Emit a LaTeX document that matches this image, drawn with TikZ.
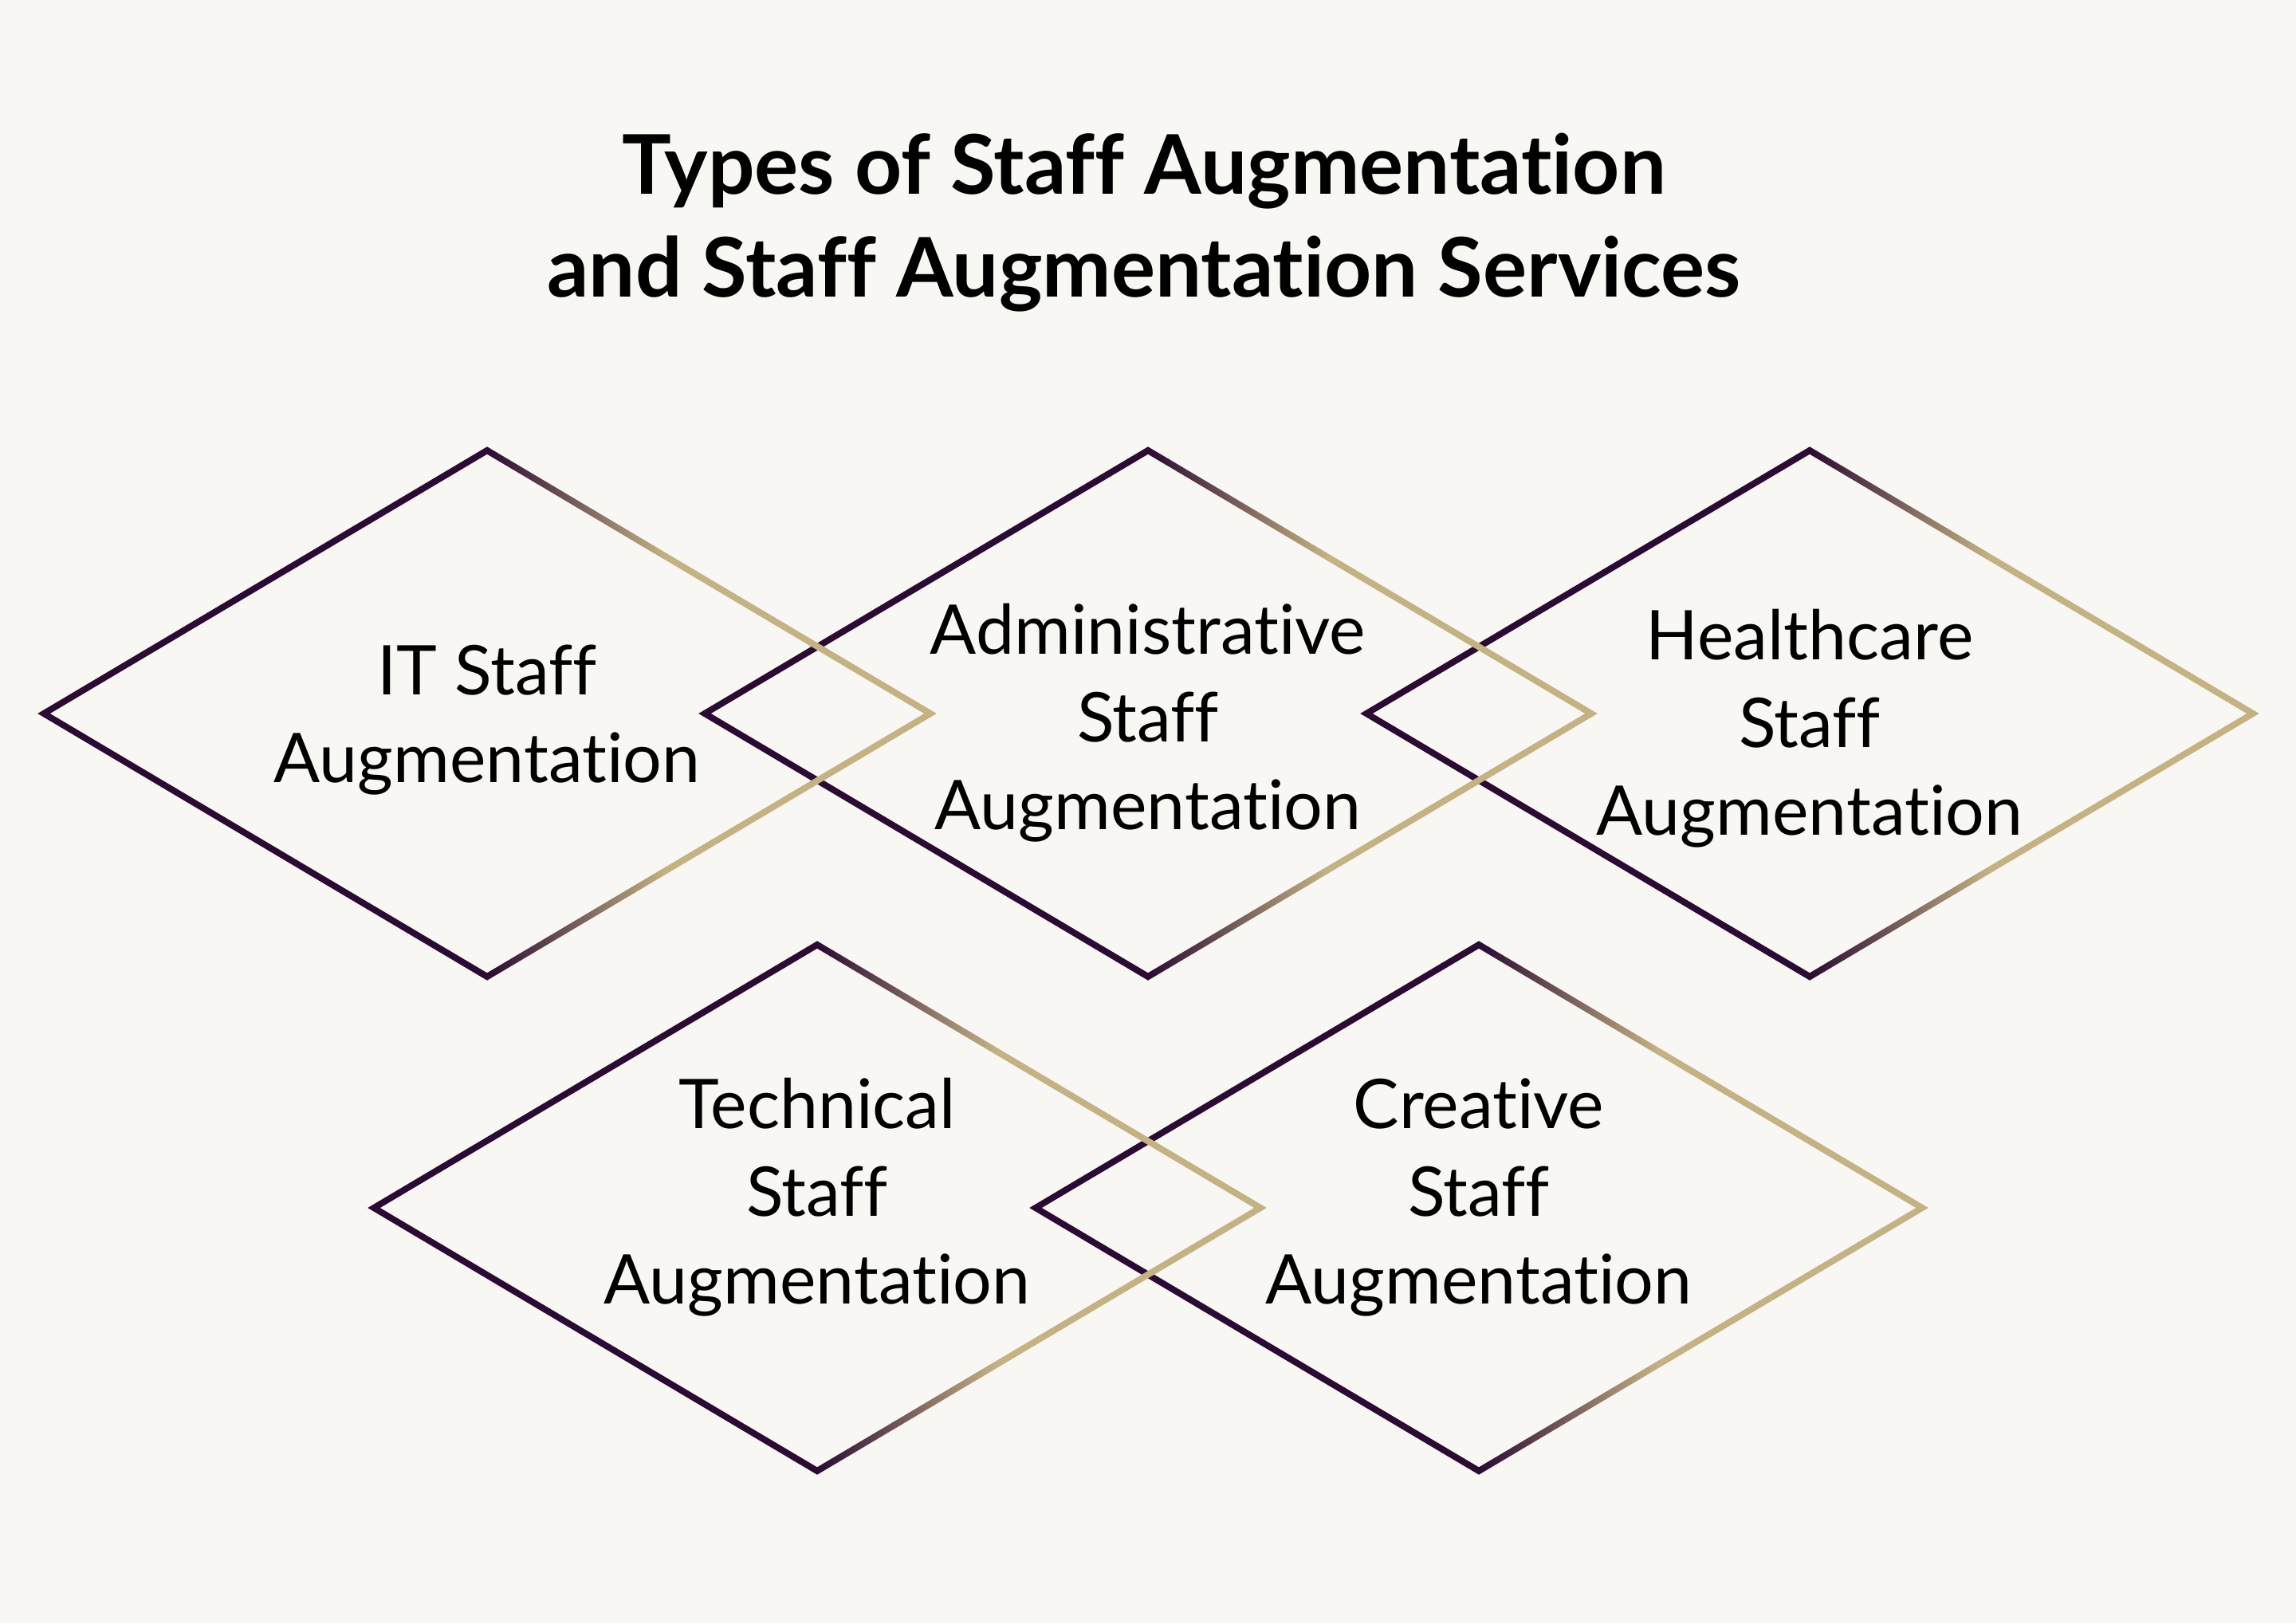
\documentclass[tikz,border=0pt]{standalone}
\usepackage{fontspec}
\setmainfont{Lato}[Ligatures=NoCommon]
\definecolor{augdark}{HTML}{2B0B33}
\definecolor{auggold}{HTML}{C4B283}
\definecolor{augpaper}{HTML}{F8F7F3}
\pgfdeclarehorizontalshading{augstroke}{100bp}{color(0bp)=(augdark); color(50bp)=(augdark); color(60bp)=(auggold); color(100bp)=(auggold)}
\begin{document}
\begin{tikzpicture}[x=2.5pt,y=2.5pt]
                \tikzstyle{every node}+=[inner sep=0pt]
                \tikzstyle{augline}=[even odd rule, shading=augstroke]
                \tikzstyle{augtext}=[align=center, text=black, font=\fontsize{21.5}{27.5}\selectfont]
                \fill [augpaper] (0,0) rectangle (288,-203.6);
                \useasboundingbox (0,0) rectangle (288,-203.6);
                \draw (143.5,-16.6) node [anchor=north, align=center, font=\bfseries\fontsize{25.8}{32.25}\selectfont] (title) {Types of Staff Augmentation\\and Staff Augmentation Services};
                % upper row, drawn right to left
                \shade [augline, shift={(227,-89.5)}] (-56.38,0) -- (0,33.47) -- (56.38,0) -- (0,-33.47) -- cycle (-54.82,0) -- (0,32.53) -- (54.82,0) -- (0,-32.53) -- cycle;
                \shade [augline, shift={(144,-89.5)}] (-56.38,0) -- (0,33.47) -- (56.38,0) -- (0,-33.47) -- cycle (-54.82,0) -- (0,32.53) -- (54.82,0) -- (0,-32.53) -- cycle;
                \shade [augline, shift={(61.1,-89.5)}] (-56.38,0) -- (0,33.47) -- (56.38,0) -- (0,-33.47) -- cycle (-54.82,0) -- (0,32.53) -- (54.82,0) -- (0,-32.53) -- cycle;
                % lower row
                \shade [augline, shift={(185.5,-151.5)}] (-56.38,0) -- (0,33.47) -- (56.38,0) -- (0,-33.47) -- cycle (-54.82,0) -- (0,32.53) -- (54.82,0) -- (0,-32.53) -- cycle;
                \shade [augline, shift={(102.5,-151.5)}] (-56.38,0) -- (0,33.47) -- (56.38,0) -- (0,-33.47) -- cycle (-54.82,0) -- (0,32.53) -- (54.82,0) -- (0,-32.53) -- cycle;
                \draw (61.1,-90.35) node [augtext] (itstaff) {IT Staff\\Augmentation};
                \draw (144,-90.65) node [augtext] (adminstaff) {Administrative\\Staff\\Augmentation};
                \draw (227,-91.35) node [augtext] (healthstaff) {Healthcare\\Staff\\Augmentation};
                \draw (102.5,-150.15) node [augtext] (techstaff) {Technical\\Staff\\Augmentation};
                \draw (185.5,-150.15) node [augtext] (creativestaff) {Creative\\Staff\\Augmentation};
\end{tikzpicture}
\end{document}
